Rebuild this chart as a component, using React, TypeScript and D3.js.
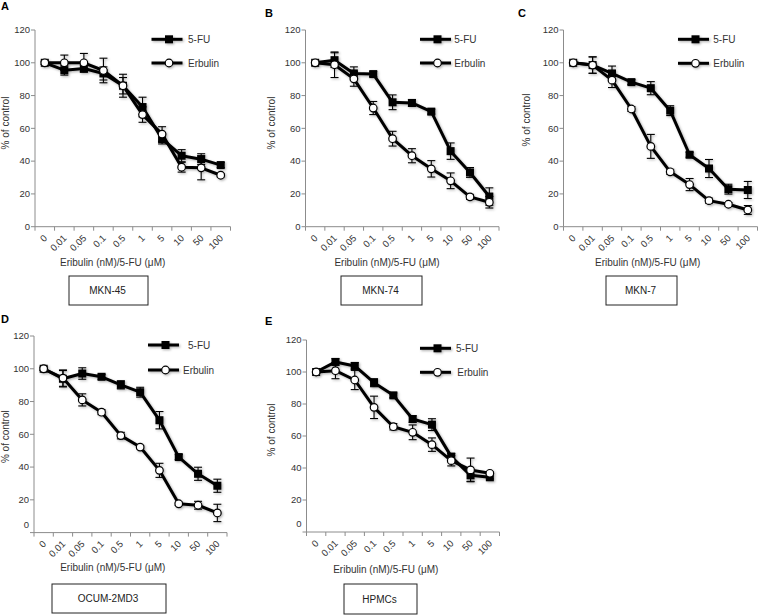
import React from "react";
import * as d3 from "d3";

const categories = ["0", "0.01", "0.05", "0.1", "0.5", "1", "5", "10", "50", "100"];
const yTicks = [0, 20, 40, 60, 80, 100, 120];
const seriesNames = ["5-FU", "Erbulin"];

// Panel A – MKN-45
const fuA = [100, 95.5, 96.5, 93.5, 86, 73, 53.5, 43.3, 41.2, 37.6];
const fuErrA = [1, 3, 2, 4, 5, 6, 3, 3.7, 3.3, 1.5];
const erbA = [100, 100, 100, 95.3, 86, 68.4, 56.5, 36.3, 35.9, 31.4];
const erbErrA = [1, 4.7, 5.7, 7.5, 7, 4.7, 4.5, 3, 7.3, 1];

// Panel B – MKN-74
const fuB = [100, 101.6, 93.5, 93.1, 75.9, 75.5, 70.2, 46.1, 33.1, 18.4];
const fuErrB = [1, 4.5, 4, 1.5, 4.5, 2, 1.5, 5, 3, 5.3];
const erbB = [100, 98.8, 90.2, 72.4, 53.7, 43.3, 35.3, 28, 18.2, 14.9];
const erbErrB = [1, 7.8, 4.5, 4, 4.5, 4.3, 5, 4.8, 1.5, 3.5];

// Panel C – MKN-7
const fuC = [100, 98.6, 93.5, 88.2, 84.5, 70.8, 43.9, 35.5, 22.9, 22.4];
const fuErrC = [1, 5, 4.5, 1.5, 4, 3, 1.5, 5.5, 3, 5.2];
const erbC = [100, 98.6, 89.4, 71.8, 49, 33.5, 25.7, 15.9, 13.7, 10.2];
const erbErrC = [1, 5, 4.5, 1.5, 7.3, 1.5, 3.7, 1.5, 1, 2.7];

// Panel D – OCUM-2MD3
const fuD = [100, 93.9, 97.1, 95.1, 90.2, 85.7, 68.6, 46.1, 35.9, 28.6];
const fuErrD = [1, 5, 3.5, 1.5, 2.5, 3, 5.3, 1.5, 4, 4];
const erbD = [100, 94.3, 81, 73.5, 59.2, 52.2, 38, 17.6, 16.7, 12];
const erbErrD = [1, 5, 3.7, 1.5, 2, 1, 4.3, 1, 2.4, 5.3];

// Panel E – HPMCs
const fuE = [100, 106.3, 103.8, 93.3, 85.4, 70.6, 67.1, 47.1, 35.4, 34.2];
const fuErrE = [1, 2, 2, 2.5, 1.5, 2, 3.7, 2, 3.7, 1];
const erbE = [100, 100.8, 95, 77.9, 65.8, 62.3, 54.6, 44.6, 38.8, 36.7];
const erbErrE = [1, 5, 6, 7, 2, 4.6, 4.2, 3.3, 7.4, 1];

const panelLetters = ["A", "B", "C", "D", "E"];
const cellLines = ["MKN-45", "MKN-74", "MKN-7", "OCUM-2MD3", "HPMCs"];
const xTitle = "Eribulin (nM)/5-FU (\u03BCM)";
const yTitle = "% of control";

const panelData = [
  { fu: fuA, fuErr: fuErrA, erb: erbA, erbErr: erbErrA },
  { fu: fuB, fuErr: fuErrB, erb: erbB, erbErr: erbErrB },
  { fu: fuC, fuErr: fuErrC, erb: erbC, erbErr: erbErrC },
  { fu: fuD, fuErr: fuErrD, erb: erbD, erbErr: erbErrD },
  { fu: fuE, fuErr: fuErrE, erb: erbE, erbErr: erbErrE },
];

// layout (positions only)
const layouts = [
  { x0: 35, x1: 230.5, yT: 30, yB: 226.7, letter: [1, 10], yT_x: 5, yT_y: 123, xt: [112.7, 265.5], legX: 151.5, legY: [39.3, 63], legTx: [188, 188], box: [69, 276, 148, 305], zeroOff: 0 },
  { x0: 305.5, x1: 499, yT: 30, yB: 226.7, letter: [265, 16.5], yT_x: 271.7, yT_y: 123, xt: [387, 265.5], legX: 420, legY: [39.3, 63], legTx: [454.3, 454.3], box: [341, 276, 422, 305], zeroOff: 0 },
  { x0: 563.5, x1: 757.5, yT: 30, yB: 226.7, letter: [518, 16.5], yT_x: 526.7, yT_y: 120, xt: [647.7, 265.5], legX: 678, legY: [39.3, 63.3], legTx: [713.3, 713.3], box: [606, 276, 677, 305], zeroOff: 0 },
  { x0: 34, x1: 227, yT: 336, yB: 532.6, letter: [1, 323], yT_x: 5, yT_y: 436.7, xt: [112.8, 571], legX: 148, legY: [345, 370], legTx: [188, 183], box: [52, 584, 166, 613], zeroOff: -8 },
  { x0: 306.5, x1: 499.5, yT: 340, yB: 532, letter: [265, 325], yT_x: 271.7, yT_y: 430, xt: [385.8, 572.5], legX: 420, legY: [348.3, 372.3], legTx: [456, 457.3], box: [344, 584, 417, 614], zeroOff: -8 },
];

const FONT = "'Liberation Sans', Arial, Helvetica, sans-serif";
const AXIS = "#8c8c8c";

function Panel({ idx }: { idx: number }) {
  const L = layouts[idx];
  const D = panelData[idx];
  const x = d3.scaleBand<string>().domain(categories).range([L.x0, L.x1]).padding(0);
  const y = d3.scaleLinear().domain([0, 120]).range([L.yB, L.yT]);
  const cx = (i: number) => (x(categories[i]) as number) + x.bandwidth() / 2;
  const line = d3
    .line<number>()
    .x((_, i) => cx(i))
    .y((v) => y(v));
  const boundaries = categories.map((c) => x(c) as number).concat([L.x1]);
  const errBars = (vals: number[], errs: number[]) =>
    vals.map((v, i) => (
      <g key={i} stroke="#000" strokeWidth={1.1}>
        <line x1={cx(i)} x2={cx(i)} y1={y(v + errs[i])} y2={y(v - errs[i])} />
        <line x1={cx(i) - 4} x2={cx(i) + 4} y1={y(v + errs[i])} y2={y(v + errs[i])} />
        <line x1={cx(i) - 4} x2={cx(i) + 4} y1={y(v - errs[i])} y2={y(v - errs[i])} />
      </g>
    ));
  const [bx0, by0, bx1, by1] = L.box;
  return (
    <g fontFamily={FONT}>
      <text x={L.letter[0]} y={L.letter[1]} fontSize={11} fontWeight="bold" fill="#000">
        {panelLetters[idx]}
      </text>
      {/* axes */}
      <line x1={L.x0} x2={L.x0} y1={L.yT} y2={L.yB} stroke={AXIS} strokeWidth={1} />
      <line x1={L.x0} x2={L.x1} y1={L.yB} y2={L.yB} stroke={AXIS} strokeWidth={1} />
      {yTicks.map((t) => (
        <g key={t}>
          <line x1={L.x0 - 4} x2={L.x0} y1={y(t)} y2={y(t)} stroke={AXIS} />
          <text
            x={L.x0 - 5}
            y={y(t) + (t === 0 ? L.zeroOff : 0)}
            dy="0.35em"
            textAnchor="end"
            fontSize={9.5}
            fill="#333"
          >
            {t}
          </text>
        </g>
      ))}
      {boundaries.map((b, i) => (
        <line key={i} x1={b} x2={b} y1={L.yB} y2={L.yB + 4} stroke={AXIS} />
      ))}
      {categories.map((c, i) => (
        <text
          key={c}
          transform={`translate(${cx(i) + 3},${L.yB + 12}) rotate(-45)`}
          textAnchor="end"
          fontSize={9.5}
          fill="#333"
        >
          {c}
        </text>
      ))}
      <text
        transform={`translate(${L.yT_x},${L.yT_y}) rotate(-90)`}
        textAnchor="middle"
        dy="0.35em"
        fontSize={10}
        fill="#333"
      >
        {yTitle}
      </text>
      <text x={L.xt[0]} y={L.xt[1]} textAnchor="middle" fontSize={10} fill="#333">
        {xTitle}
      </text>
      {/* series */}
      <g filter="url(#shadow)">
        <path d={line(D.fu) || ""} fill="none" stroke="#000" strokeWidth={3} strokeLinejoin="round" />
        {errBars(D.fu, D.fuErr)}
        {D.fu.map((v, i) => (
          <rect key={i} x={cx(i) - 4} y={y(v) - 4} width={8} height={8} fill="#000" />
        ))}
        <path d={line(D.erb) || ""} fill="none" stroke="#000" strokeWidth={3} strokeLinejoin="round" />
        {errBars(D.erb, D.erbErr)}
        {D.erb.map((v, i) => (
          <circle key={i} cx={cx(i)} cy={y(v)} r={3.8} fill="#fff" stroke="#000" strokeWidth={1.2} />
        ))}
      </g>
      {/* legend */}
      <g filter="url(#shadow)">
        <line x1={L.legX} x2={L.legX + 31} y1={L.legY[0]} y2={L.legY[0]} stroke="#000" strokeWidth={3} />
        <rect x={L.legX + 17.5 - 4} y={L.legY[0] - 4} width={8} height={8} fill="#000" />
        <line x1={L.legX} x2={L.legX + 31} y1={L.legY[1]} y2={L.legY[1]} stroke="#000" strokeWidth={3} />
        <circle cx={L.legX + 17.5} cy={L.legY[1]} r={3.8} fill="#fff" stroke="#000" strokeWidth={1.2} />
      </g>
      <text x={L.legTx[0]} y={L.legY[0]} dy="0.35em" fontSize={10} fill="#333">
        {seriesNames[0]}
      </text>
      <text x={L.legTx[1]} y={L.legY[1]} dy="0.35em" fontSize={10} fill="#333">
        {seriesNames[1]}
      </text>
      {/* cell line box */}
      <rect x={bx0} y={by0} width={bx1 - bx0} height={by1 - by0} fill="#fff" stroke="#222" strokeWidth={1} />
      <text x={(bx0 + bx1) / 2 - 1} y={(by0 + by1) / 2} dy="0.35em" textAnchor="middle" fontSize={10} fill="#222">
        {cellLines[idx]}
      </text>
    </g>
  );
}

export default function App() {
  return (
    <svg
      width={759}
      height={615}
      viewBox="0 0 759 615"
      style={{ position: "absolute", left: 0, top: 0, background: "#fff" }}
    >
      <defs>
        <filter id="shadow" x="-10%" y="-10%" width="120%" height="120%">
          <feDropShadow dx="1.2" dy="1.2" stdDeviation="1" floodColor="#000" floodOpacity="0.3" />
        </filter>
      </defs>
      <rect width={759} height={615} fill="#fff" />
      {layouts.map((_, i) => (
        <Panel key={i} idx={i} />
      ))}
    </svg>
  );
}
